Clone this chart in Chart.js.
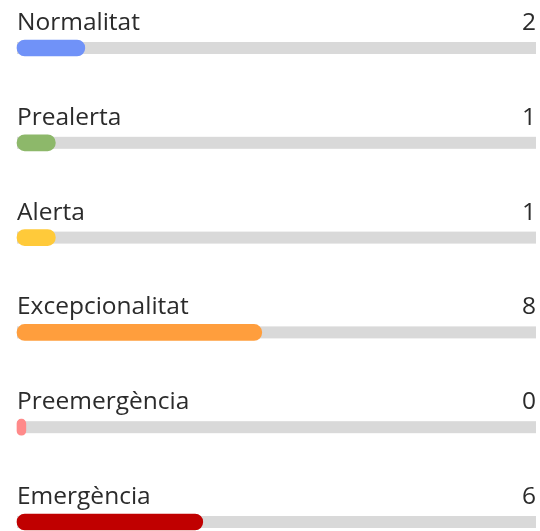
<!DOCTYPE html>
<html lang="ca">
<head>
  <meta charset="UTF-8" />
  <title>Nivells</title>
  <script src="https://cdn.jsdelivr.net/npm/chart.js@4.4.1/dist/chart.umd.min.js"></script>
  <style>
    html, body {
      margin: 0;
      padding: 0;
      background: #ffffff;
    }
    .chart-box {
      width: 540px;
      height: 531px;
    }
  </style>
</head>
<body>
  <div class="chart-box">
    <canvas id="levels"></canvas>
  </div>

  <script>
    // Data
    const categories = ['Normalitat', 'Prealerta', 'Alerta', 'Excepcionalitat', 'Preemergència', 'Emergència'];
    const counts = [2, 1, 1, 8, 0, 6];
    const barColors = ['#7092f8', '#8db86a', '#ffca3a', '#ff9e3d', '#ff8a8a', '#c00000'];

    // Value axis range (the bars start a little left of zero so 0 still shows a stub)
    const X_MIN = -0.3;
    const X_MAX = 17.3;

    const FONT = "'Open Sans', 'Noto Sans', sans-serif";

    // grey track behind every bar
    const trackPlugin = {
      id: 'track',
      beforeDatasetsDraw(chart) {
        const { ctx, scales: { x, y } } = chart;
        ctx.save();
        ctx.fillStyle = '#d9d9d9';
        categories.forEach((c, i) => {
          const cy = y.getPixelForValue(i);
          const x0 = x.getPixelForValue(X_MIN);
          const x1 = x.getPixelForValue(X_MAX);
          ctx.fillRect(x0, cy - 6, x1 - x0, 12);
        });
        ctx.restore();
      }
    };

    // category names above the bars, counts on the right
    const textPlugin = {
      id: 'rowText',
      afterDatasetsDraw(chart) {
        const { ctx, chartArea, scales: { y } } = chart;
        ctx.save();
        ctx.font = '24.5px ' + FONT;
        ctx.fillStyle = '#2b2b2b';
        ctx.textBaseline = 'alphabetic';
        categories.forEach((c, i) => {
          const cy = y.getPixelForValue(i);
          ctx.textAlign = 'left';
          ctx.fillText(c, chartArea.left, cy - 18);
          ctx.textAlign = 'right';
          ctx.fillText(String(counts[i]), chartArea.right, cy - 18);
        });
        ctx.restore();
      }
    };

    const chart = new Chart(document.getElementById('levels'), {
      type: 'bar',
      data: {
        labels: categories,
        datasets: [{
          data: counts,
          backgroundColor: barColors,
          base: X_MIN,
          barThickness: 16,
          borderRadius: 8,
          borderSkipped: false,
          clip: false
        }]
      },
      options: {
        indexAxis: 'y',
        responsive: true,
        maintainAspectRatio: false,
        animation: false,
        layout: {
          padding: { top: 48, bottom: 9, left: 17, right: 4 }
        },
        scales: {
          x: { display: false, min: X_MIN, max: X_MAX },
          y: { display: false, offset: false }
        },
        plugins: {
          legend: { display: false },
          tooltip: { enabled: false }
        }
      },
      plugins: [trackPlugin, textPlugin]
    });
  </script>
</body>
</html>
